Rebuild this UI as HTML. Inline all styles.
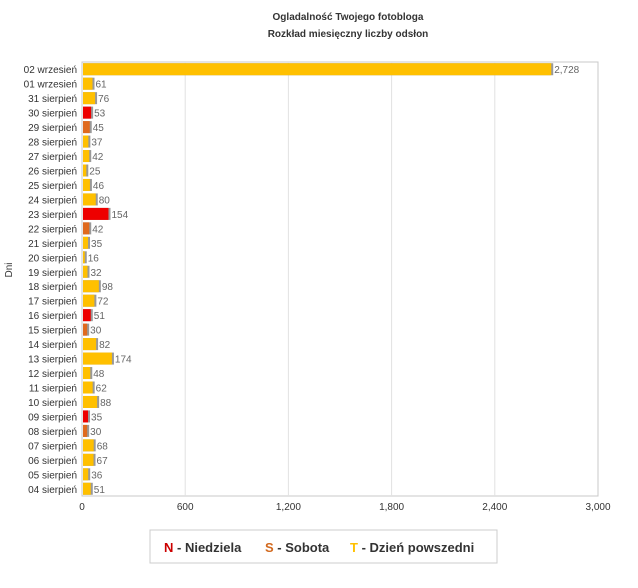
<!DOCTYPE html>
<html><head><meta charset="utf-8"><style>
body{margin:0;background:#fff;font-family:"Liberation Sans",sans-serif;}
svg text{font-family:"Liberation Sans","DejaVu Sans",sans-serif;}
</style></head><body>
<svg id="c" width="638" height="583">
<text x="348" y="20" text-anchor="middle" font-size="10" font-weight="bold" fill="#333">Ogladalność Twojego fotobloga</text>
<text x="348" y="37" text-anchor="middle" font-size="10" font-weight="bold" fill="#333">Rozkład miesięczny liczby odsłon</text>
<text transform="translate(12,270) rotate(-90)" text-anchor="middle" font-size="10" fill="#333">Dni</text>
<rect x="82" y="62" width="516" height="434" fill="none" stroke="#c8c8c8"/>
<g id="g"></g>
<g>
<rect x="150" y="530" width="347" height="33" fill="#fff" stroke="#ccc"/>
<text x="164" y="552" font-size="13" font-weight="bold" fill="#333"><tspan fill="#c00">N</tspan> - Niedziela</text>
<text x="265" y="552" font-size="13" font-weight="bold" fill="#333"><tspan fill="#d2691e">S</tspan> - Sobota</text>
<text x="350" y="552" font-size="13" font-weight="bold" fill="#333"><tspan fill="#ffc000">T</tspan> - Dzień powszedni</text>
</g>
</svg>
<script>
const categories=["02 wrzesień","01 wrzesień","31 sierpień","30 sierpień","29 sierpień","28 sierpień","27 sierpień","26 sierpień","25 sierpień","24 sierpień","23 sierpień","22 sierpień","21 sierpień","20 sierpień","19 sierpień","18 sierpień","17 sierpień","16 sierpień","15 sierpień","14 sierpień","13 sierpień","12 sierpień","11 sierpień","10 sierpień","09 sierpień","08 sierpień","07 sierpień","06 sierpień","05 sierpień","04 sierpień"];
const values=[2728,61,76,53,45,37,42,25,46,80,154,42,35,16,32,98,72,51,30,82,174,48,62,88,35,30,68,67,36,51];
const dayTypes=["T","T","T","N","S","T","T","T","T","T","N","S","T","T","T","T","T","N","S","T","T","T","T","T","N","S","T","T","T","T"];
const ticks=[0,600,1200,1800,2400,3000];
const tickLabels=["0","600","1,200","1,800","2,400","3,000"];
const X0=82,X1=598,Y0=62,Y1=496,MAX=3000;
const x=v=>X0+(v/MAX)*(X1-X0);
const step=(Y1-Y0)/categories.length;
const y=i=>Y0+step*(i+0.5);
const colors={N:"#ee0000",S:"#e06a1e",T:"#ffc000"};
const ns="http://www.w3.org/2000/svg",g=document.getElementById("g");
function mk(t,a){const e=document.createElementNS(ns,t);for(const k in a)e.setAttribute(k,a[k]);g.appendChild(e);return e;}
ticks.forEach((t,i)=>{
  if(i>0&&i<ticks.length-1){const l=mk("line",{x1:x(t),x2:x(t),y1:Y0,y2:Y1,stroke:"#e2e2e2"});
  
  }
  const tx=mk("text",{x:x(t),y:Y1+14,"text-anchor":"middle","font-size":"10",fill:"#333"});
  tx.textContent=tickLabels[i];
  
  
});
categories.forEach((c,i)=>{
  const cy=y(i);
  const lb=mk("text",{x:77,y:cy+4,"text-anchor":"end","font-size":"10",fill:"#333"});
  lb.textContent=c;
  
  
  const w=x(values[i])-X0;
  const sh=mk("rect",{x:X0+1,y:cy-6,width:w+1,height:12,fill:"#999"});
  
  
  const b=mk("rect",{x:X0+1,y:cy-6,width:Math.max(w-1,1),height:12,fill:colors[dayTypes[i]]});
  
  
  const v=mk("text",{x:X0+w+3,y:cy+4,"font-size":"10",fill:"#666"});
  v.textContent=values[i].toLocaleString("en-US");
  
  
});
</script>
</body></html>
